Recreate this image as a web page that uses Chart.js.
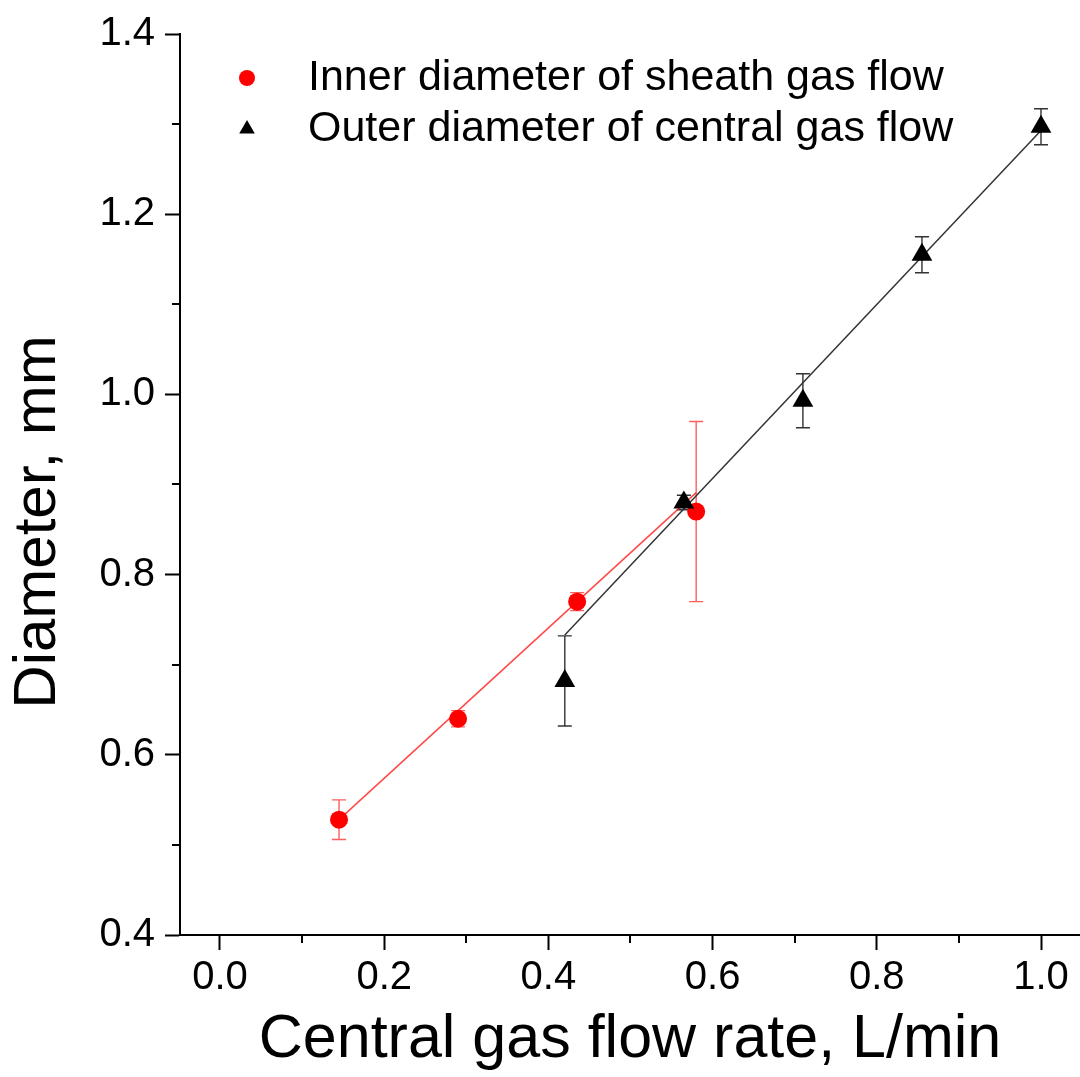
<!DOCTYPE html>
<html>
<head>
<meta charset="utf-8">
<script src="https://cdn.jsdelivr.net/npm/chart.js@4.4.1/dist/chart.umd.min.js"></script>
<style>
  html, body { margin: 0; padding: 0; background: #fff; }
  #wrap { width: 1080px; height: 1077px; }
</style>
</head>
<body>
<div id="wrap"><canvas id="grafico"></canvas></div>
<script>
// dados
var seriesNames = ["Inner diameter of sheath gas flow", "Outer diameter of central gas flow"];

var innerX = [0.145, 0.29, 0.435, 0.58];
var innerY = [0.528, 0.640, 0.770, 0.870];
var innerErr = [0.022, 0.009, 0.010, 0.100];

var outerX = [0.42, 0.565, 0.71, 0.855, 1.0];
var outerY = [0.682, 0.880, 0.993, 1.155, 1.297];
var outerErr = [0.050, 0.008, 0.030, 0.020, 0.020];

// retas de ajuste (pontos extremos)
var innerFitX = [0.145, 0.58];
var innerFitY = [0.528, 0.891];
var outerFitX = [0.42, 1.0];
var outerFitY = [0.733, 1.293];

var xTicksMinor = [0.1, 0.3, 0.5, 0.7, 0.9];
var yTicksMinor = [0.5, 0.7, 0.9, 1.1, 1.3];

var xTitle = "Central gas flow rate, L/min";
var yTitle = "Diameter, mm";

var FONTE = "'Liberation Sans', Arial, sans-serif";
var VERMELHO = "#ff0000";
var PRETO = "#000000";

function pares(xs, ys) {
    return xs.map(function (x, i) { return { x: x, y: ys[i] }; });
}

// barras de erro, ticks menores, titulo do eixo y e legenda
var pluginExtras = {
    id: "extras",
    beforeDatasetsDraw: function (chart) {
        var ctx = chart.ctx;
        var sx = chart.scales.x, sy = chart.scales.y;
        var grupos = [
            { xs: innerX, ys: innerY, err: innerErr, cor: "rgba(255,40,40,0.75)" },
            { xs: outerX, ys: outerY, err: outerErr, cor: "#333333" }
        ];
        ctx.save();
        ctx.lineWidth = 1.4;
        grupos.forEach(function (g) {
            ctx.strokeStyle = g.cor;
            g.xs.forEach(function (x, i) {
                var px = sx.getPixelForValue(x);
                var top = sy.getPixelForValue(g.ys[i] + g.err[i]);
                var bot = sy.getPixelForValue(g.ys[i] - g.err[i]);
                ctx.beginPath();
                ctx.moveTo(px, top); ctx.lineTo(px, bot);
                ctx.moveTo(px - 7, top); ctx.lineTo(px + 7, top);
                ctx.moveTo(px - 7, bot); ctx.lineTo(px + 7, bot);
                ctx.stroke();
            });
        });
        ctx.restore();
    },
    afterDraw: function (chart) {
        var ctx = chart.ctx;
        var sx = chart.scales.x, sy = chart.scales.y;
        var area = chart.chartArea;
        ctx.save();
        ctx.strokeStyle = PRETO;
        ctx.lineWidth = 2;
        ctx.beginPath();
        xTicksMinor.forEach(function (v) {
            var px = Math.round(sx.getPixelForValue(v));
            ctx.moveTo(px, area.bottom); ctx.lineTo(px, area.bottom + 8);
        });
        yTicksMinor.forEach(function (v) {
            var py = Math.round(sy.getPixelForValue(v));
            ctx.moveTo(area.left, py); ctx.lineTo(area.left - 8, py);
        });
        ctx.stroke();

        // titulo do eixo Y
        ctx.fillStyle = PRETO;
        ctx.font = "60px " + FONTE;
        ctx.textAlign = "center";
        ctx.textBaseline = "middle";
        ctx.translate(38, 522);
        ctx.rotate(-Math.PI / 2);
        ctx.fillText(yTitle, 0, 0);
        ctx.restore();

        // legenda
        ctx.save();
        ctx.font = "43px " + FONTE;
        ctx.textAlign = "left";
        ctx.textBaseline = "middle";
        var itens = [
            { style: "circle", r: 8, cor: VERMELHO, y: 78 },
            { style: "triangle", r: 9, cor: PRETO, y: 129 }
        ];
        itens.forEach(function (it, i) {
            ctx.fillStyle = it.cor;
            ctx.strokeStyle = it.cor;
            Chart.helpers.drawPoint(ctx, { pointStyle: it.style, radius: it.r, rotation: 0, borderWidth: 0 }, 247, it.y);
            ctx.fillStyle = PRETO;
            ctx.fillText(seriesNames[i], 308, it.y);
        });
        ctx.restore();
    }
};

var options = {
    responsive: false,
    animation: false,
    maintainAspectRatio: false,
    layout: { autoPadding: false, padding: { top: 33, right: 0, left: 0, bottom: 0 } },
    plugins: {
        legend: { display: false },
        tooltip: { enabled: false }
    },
    scales: {
        x: {
            type: "linear",
            min: -0.0487,
            max: 1.0475,
            afterFit: function (s) {
                s.height = 142;
                s.paddingLeft = 0;
                s.paddingRight = 0;
            },
            border: { display: true, color: PRETO, width: 2 },
            grid: { drawOnChartArea: false, drawTicks: true, tickLength: 15, tickWidth: 2, tickColor: PRETO },
            ticks: {
                stepSize: 0.2,
                includeBounds: false,
                autoSkip: false,
                maxRotation: 0,
                padding: 4,
                color: PRETO,
                font: { family: FONTE, size: 40 },
                callback: function (v) { return Number(v).toFixed(1); }
            },
            title: {
                display: true,
                text: xTitle,
                color: PRETO,
                font: { family: FONTE, size: 61 },
                padding: { top: 0, bottom: 0 }
            }
        },
        y: {
            type: "linear",
            min: 0.4,
            max: 1.4,
            afterFit: function (s) { s.width = 180; },
            border: { display: true, color: PRETO, width: 2 },
            grid: { drawOnChartArea: false, drawTicks: true, tickLength: 15, tickWidth: 2, tickColor: PRETO },
            ticks: {
                stepSize: 0.2,
                autoSkip: false,
                padding: 10,
                color: PRETO,
                font: { family: FONTE, size: 40 },
                callback: function (v) { return Number(v).toFixed(1); }
            }
        }
    }
};

var dados = {
    datasets: [
        {
            type: "scatter",
            label: seriesNames[1],
            data: pares(outerX, outerY),
            pointStyle: "triangle",
            pointRadius: 12,
            backgroundColor: PRETO,
            borderColor: PRETO,
            borderWidth: 0
        },
        {
            type: "scatter",
            label: seriesNames[0],
            data: pares(innerX, innerY),
            pointStyle: "circle",
            pointRadius: 9,
            backgroundColor: VERMELHO,
            borderColor: VERMELHO,
            borderWidth: 0
        },
        {
            type: "line",
            label: "fit inner",
            data: pares(innerFitX, innerFitY),
            borderColor: "rgba(255,40,40,0.85)",
            borderWidth: 1.5,
            pointRadius: 0,
            fill: false
        },
        {
            type: "line",
            label: "fit outer",
            data: pares(outerFitX, outerFitY),
            borderColor: "#333333",
            borderWidth: 1.5,
            pointRadius: 0,
            fill: false
        }
    ]
};

var canvas = document.getElementById("grafico");
canvas.width = 1080;
canvas.height = 1077;
var _grafico = new Chart(canvas, { type: "scatter", data: dados, options: options, plugins: [pluginExtras] });
</script>
</body>
</html>
